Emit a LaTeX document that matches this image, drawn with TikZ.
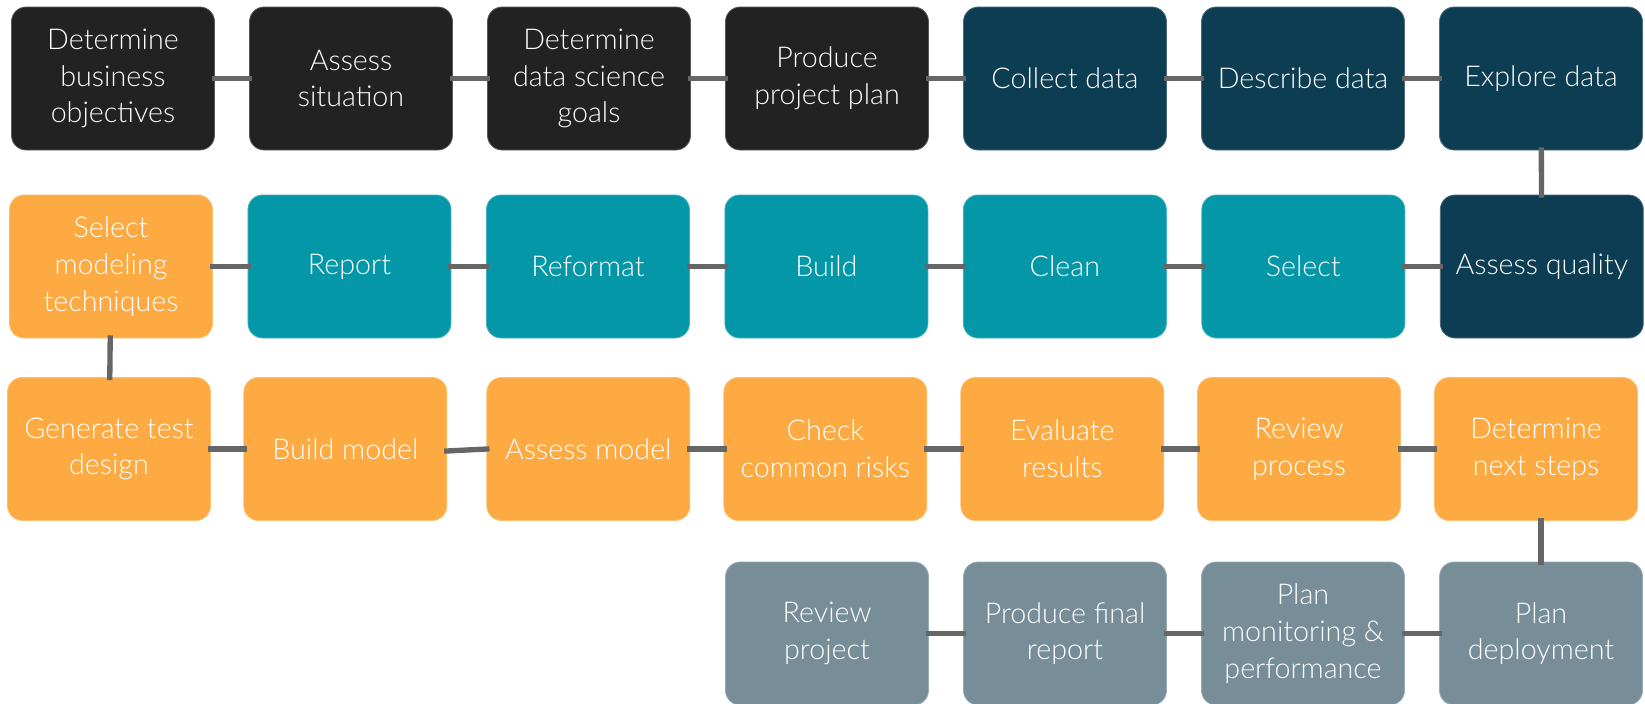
\documentclass[tikz,border=0pt]{standalone}
\usepackage{fontspec}
\IfFontExistsTF{Lato Light}{\setmainfont{Lato Light}}{%
  \IfFontExistsTF{Open Sans Light}{\setmainfont{Open Sans Light}}{\setmainfont{Fira Sans}}}
\usetikzlibrary{positioning}
\definecolor{PhaseBiz}{HTML}{222222}
\definecolor{PhaseData}{HTML}{0C3D52}
\definecolor{PhasePrep}{HTML}{0397A7}
\definecolor{PhaseModel}{HTML}{FEAA43}
\definecolor{PhaseDeploy}{HTML}{778E99}
\definecolor{LinkGrey}{HTML}{666666}
\tikzset{
  task/.style={fill=#1, draw=#1!75!white, line width=0.6pt, rounded corners=11pt,
               text=white, align=center, inner sep=2pt, outer sep=0pt,
               minimum width=152.25pt, minimum height=107.25pt,
               font=\fontsize{21.5}{27.5}\selectfont},
  bizbox/.style={task=PhaseBiz},
  databox/.style={task=PhaseData},
  prepbox/.style={task=PhasePrep},
  modelbox/.style={task=PhaseModel},
  deploybox/.style={task=PhaseDeploy},
  link/.style={line width=4pt, LinkGrey, shorten <=-2pt, shorten >=-2pt},
}

\begin{document}
\begin{tikzpicture}[x=0.75pt, y=0.75pt]
  \useasboundingbox (0,0) rectangle (1645,-703);
  \clip (0,0) rectangle (1645,-703);

  % business understanding + data understanding
  \node[bizbox] (bizobj) at (113,-78.5) {Determine\\business\\objectives};
  \node[bizbox, right=26.25pt of bizobj] (situation) {Assess\\situation};
  \node[bizbox, right=26.25pt of situation] (dsgoals) {Determine\\data science\\goals};
  \node[bizbox, right=26.25pt of dsgoals] (projplan) {Produce\\project plan};
  \node[databox, right=26.25pt of projplan] (collect) {Collect data};
  \node[databox, right=26.25pt of collect] (describe) {Describe data};
  \node[databox, right=26.25pt of describe] (explore) {Explore data};

  % data preparation
  \node[modelbox] (technique) at (111,-266.5) {Select\\modeling\\techniques};
  \node[prepbox, right=26.6pt of technique] (report) {Report};
  \node[prepbox, right=26.6pt of report] (reformat) {Reformat};
  \node[prepbox, right=26.6pt of reformat] (build) {Build};
  \node[prepbox, right=26.6pt of build] (clean) {Clean};
  \node[prepbox, right=26.6pt of clean] (selectdata) {Select};
  \node[databox, right=26.6pt of selectdata] (quality) {Assess quality};

  % modeling + evaluation
  \node[modelbox] (testdesign) at (109,-449) {Generate test\\design};
  \node[modelbox, right=25pt of testdesign] (buildmodel) {Build model};
  \node[modelbox, right=30pt of buildmodel] (assessmodel) {Assess model};
  \node[modelbox, right=25.5pt of assessmodel] (risks) {Check\\common risks};
  \node[modelbox, right=25.5pt of risks] (evaluate) {Evaluate\\results};
  \node[modelbox, right=25.25pt of evaluate] (review) {Review\\process};
  \node[modelbox, right=25.5pt of review] (nextsteps) {Determine\\next steps};

  % deployment
  \node[deploybox] (reviewproj) at (827,-633.5) {Review\\project};
  \node[deploybox, right=26.25pt of reviewproj] (finalreport) {Produce final\\report};
  \node[deploybox, right=26.25pt of finalreport] (monitoring) {Plan\\monitoring \&\\performance};
  \node[deploybox, right=26.25pt of monitoring] (deployment) {Plan\\deployment};

  \draw[link] (bizobj) -- (situation);
  \draw[link] (situation) -- (dsgoals);
  \draw[link] (dsgoals) -- (projplan);
  \draw[link] (projplan) -- (collect);
  \draw[link] (collect) -- (describe);
  \draw[link] (describe) -- (explore);
  \draw[link] (explore) -- (quality);
  \draw[link] (quality) -- (selectdata);
  \draw[link] (selectdata) -- (clean);
  \draw[link] (clean) -- (build);
  \draw[link] (build) -- (reformat);
  \draw[link] (reformat) -- (report);
  \draw[link] (report) -- (technique);
  \draw[link] (technique) -- (testdesign);
  \draw[link] (testdesign) -- (buildmodel);
  \draw[link] ([yshift=-1.5pt]buildmodel.east) -- (assessmodel.west);
  \draw[link] (assessmodel) -- (risks);
  \draw[link] (risks) -- (evaluate);
  \draw[link] (evaluate) -- (review);
  \draw[link] (review) -- (nextsteps);
  \draw[link] (deployment |- nextsteps.south) -- (deployment.north);
  \draw[link] (deployment) -- (monitoring);
  \draw[link] (monitoring) -- (finalreport);
  \draw[link] (finalreport) -- (reviewproj);
\end{tikzpicture}
\end{document}
